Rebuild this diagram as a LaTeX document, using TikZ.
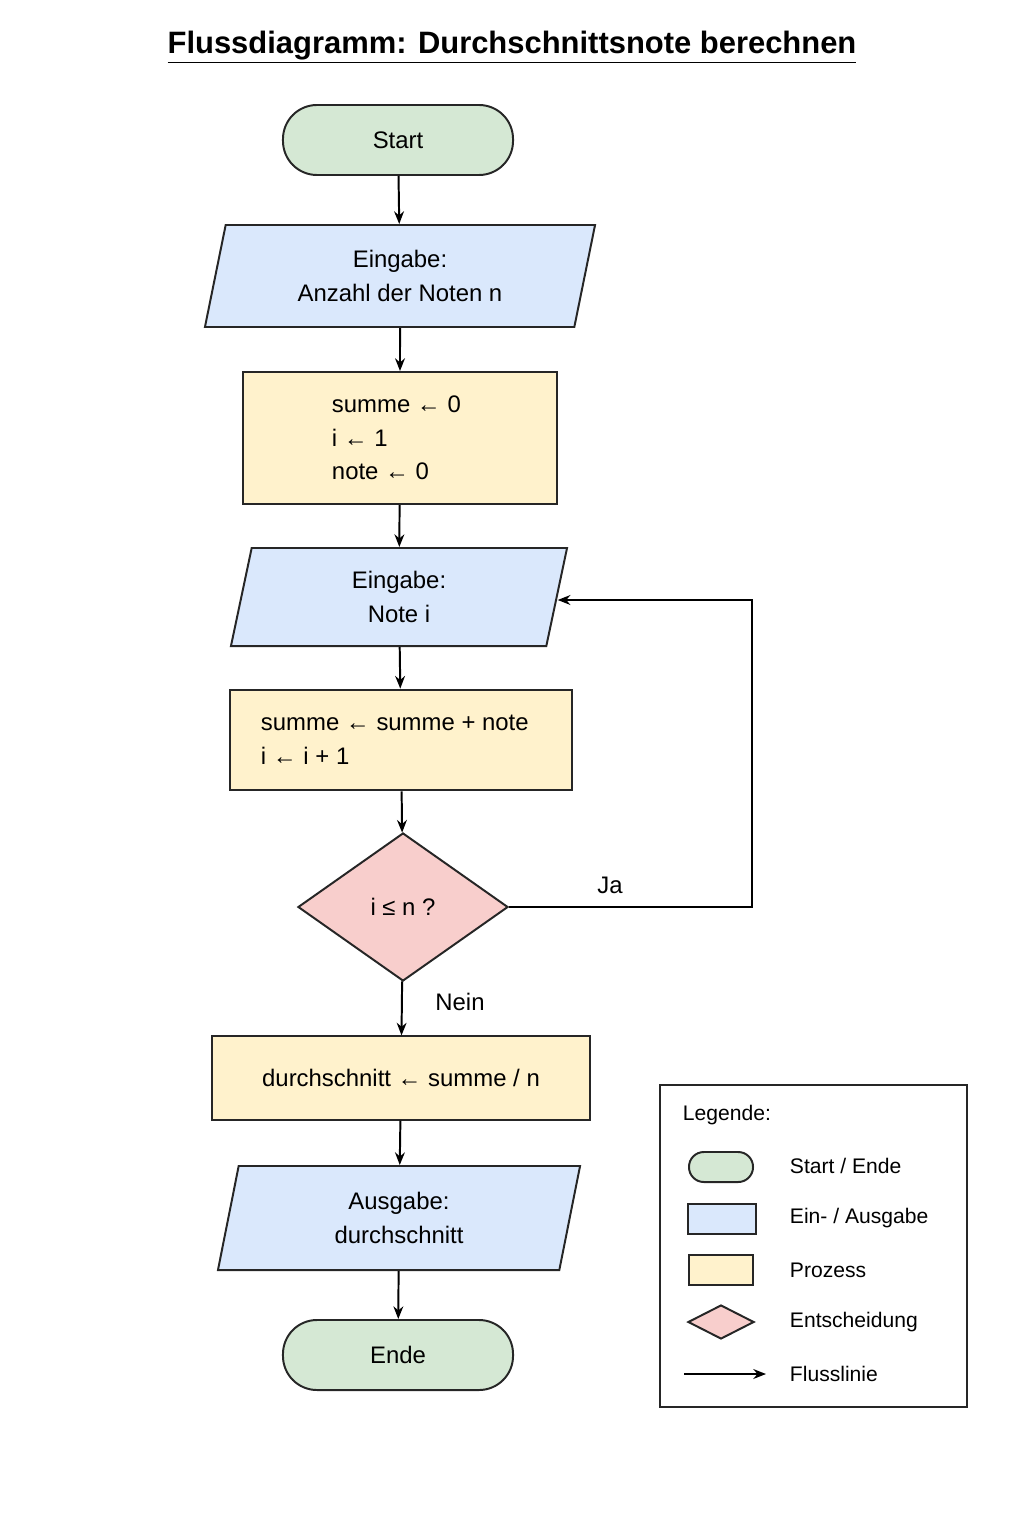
\documentclass[tikz,border=0pt]{standalone}
\usepackage{fontspec}
\setmainfont{Liberation Sans}
\definecolor{fgreen}{HTML}{D5E8D4}
\definecolor{fblue}{HTML}{DAE8FC}
\definecolor{fyellow}{HTML}{FFF2CC}
\definecolor{fred}{HTML}{F8CECC}
\usetikzlibrary{shapes.geometric,arrows.meta,positioning,calc}
\begin{document}
\begin{tikzpicture}[x=0.025cm, y=-0.025cm,
  base/.style={draw=black!85, line width=1.4pt, font=\fontsize{17}{24}\selectfont, align=center, inner sep=0pt},
  term/.style={base, fill=fgreen, rounded corners=0.85cm, minimum width=5.75cm, minimum height=1.75cm},
  io/.style={base, fill=fblue, trapezium, trapezium left angle=68, trapezium right angle=112,
    trapezium stretches body, minimum width=#1, minimum height=2.5cm},
  proc/.style={base, fill=fyellow, minimum width=#1},
  dec/.style={base, fill=fred, diamond, aspect=1.42, minimum width=5.25cm, minimum height=3.7cm},
  arr/.style={-{Stealth[length=9pt,width=7pt]}, line width=1.4pt},
  lbl/.style={font=\fontsize{17}{20}\selectfont},
  leg/.style={font=\fontsize{15}{18}\selectfont, anchor=west}
]
  \useasboundingbox (0,0) rectangle (1024,1536);
  % Title
  \node[font=\fontsize{22}{26}\selectfont\bfseries] (title) at (512,47) {\underline{Flussdiagramm: Durchschnittsnote berechnen}};

  % Flow
  \node[term] (start) at (398,140) {Start};
  \node[io=9.75cm, minimum height=2.55cm] (inn) at (400,276) {Eingabe:\\Anzahl der Noten n};
  \node[proc=7.83cm, minimum height=3.3cm, align=left] (init) at (400,438)
    {\makebox[3.4cm][l]{summe ← 0}\\i ← 1\\note ← 0};
  \node[io=8.4cm, minimum height=2.45cm] (innote) at (399,597) {Eingabe:\\Note i};
  \node[proc=8.53cm, minimum height=2.52cm, align=left] (sum) at (401,740)
    {\makebox[7cm][l]{summe ← summe + note}\\i ← i + 1};
  \node[dec] (check) at (403,907) {i ≤ n ?};
  \node[proc=9.43cm, minimum height=2.08cm] (avg) at (401,1078) {durchschnitt ← summe / n};
  \node[io=9.05cm, minimum height=2.6cm] (out) at (399,1218) {Ausgabe:\\durchschnitt};
  \node[term] (stop) at (398,1355) {Ende};
  \coordinate (loopa) at (752,907);
  \coordinate (loopb) at (752,600);

  % Arrows
  \draw[arr] (start) -- (inn);
  \draw[arr] (inn) -- (init);
  \draw[arr] (init) -- (innote);
  \draw[arr] (innote) -- (sum);
  \draw[arr] (sum) -- (check);
  \draw[arr] (check) -- (avg);
  \draw[arr] (avg) -- (out);
  \draw[arr] (out) -- (stop);
  \draw[arr] (check.east) -- (loopa) -- (loopb) -- (innote.east |- loopb);
  \node[lbl] (ja) at (610,885) {Ja};
  \node[lbl] (nein) at (460,1002) {Nein};

  % Legend
  \node[draw=black!85, line width=1.4pt, minimum width=7.68cm, minimum height=8.05cm] (legend) at (813.5,1246) {};
  \node[leg] (legtitle) at (678,1115) {Legende:};
  \node[term, minimum width=1.6cm, minimum height=0.75cm, rounded corners=0.37cm] (lterm) at (721,1167) {};
  \node[io=1.7cm, minimum height=0.75cm] (lio) at (722,1219) {};
  \node[proc=1.6cm, minimum height=0.75cm] (lproc) at (721,1270) {};
  \node[dec, minimum width=1.65cm, minimum height=0.85cm, aspect=2] (ldec) at (721,1322) {};
  \coordinate (la) at (684,1374);
  \coordinate (lb) at (766,1374);
  \draw[arr] (la) -- (lb);
  \node[leg] at (785,1166) {Start / Ende};
  \node[leg] at (785,1218) {Ein- / Ausgabe};
  \node[leg] at (785,1270) {Prozess};
  \node[leg] at (785,1322) {Entscheidung};
  \node[leg] at (785,1374) {Flusslinie};
\end{tikzpicture}
\end{document}
